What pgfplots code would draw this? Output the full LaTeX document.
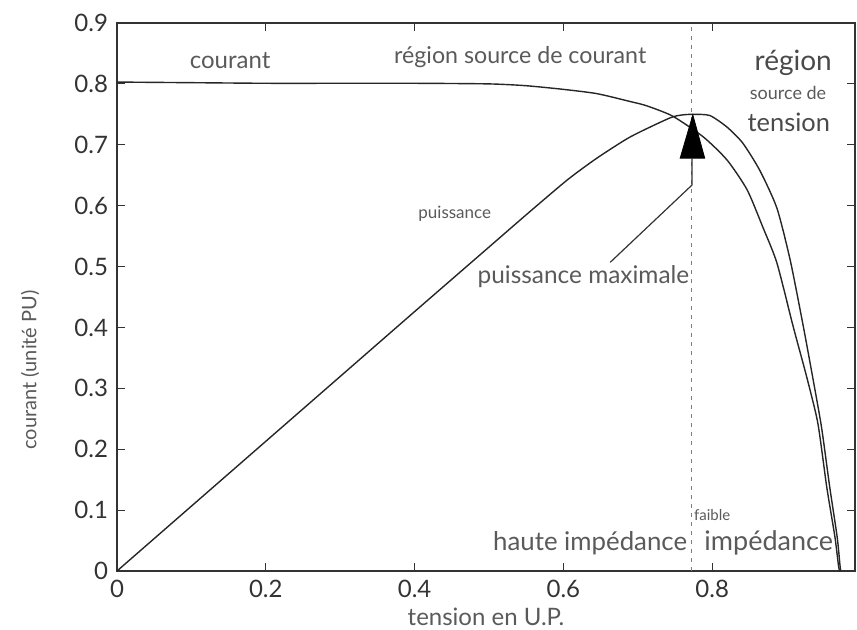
\documentclass[border=0pt]{standalone}
\usepackage{fontspec}
\setmainfont{Lato}
\usepackage{pgfplots}
\pgfplotsset{compat=1.18}
\definecolor{txt}{HTML}{5A5A5A}
\definecolor{txtd}{HTML}{4A4A4A}
\definecolor{tk}{HTML}{333333}
\begin{document}
\begin{tikzpicture}
\path[use as bounding box] (-58.5pt,-29pt) rectangle (370pt,285.5pt);
\begin{axis}[
  at={(0,0)}, anchor=south west,
  scale only axis, width=369pt, height=274pt,
  xmin=0, xmax=0.992, ymin=0, ymax=0.9,
  xtick={0,0.2,0.4,0.6,0.8},
  xticklabels={0,0.2,0.4,0.6,0.8},
  ytick={0,0.1,0.2,0.3,0.4,0.5,0.6,0.7,0.8,0.9},
  yticklabels={0,0.1,0.2,0.3,0.4,0.5,0.6,0.7,0.8,0.9},
  tick align=inside, major tick length=4pt,
  tick style={tk, line width=0.6pt},
  ticklabel style={font=\fontsize{12}{14}\selectfont, text=tk},
  xticklabel style={yshift=-1pt},
  yticklabel style={xshift=-1pt},
  /pgf/number format/assume math mode=true,
  axis line style={tk, line width=0.7pt},
  xlabel={tension en U.P.},
  xlabel style={font=\fontsize{12}{14}\selectfont, text=txt, at={(axis description cs:0.5,0)}, anchor=center, yshift=-23pt},
  ylabel={courant (unité PU)},
  ylabel style={font=\fontsize{10}{12}\selectfont, text=txt, at={(axis description cs:0,0.367)}, anchor=center, rotate=0, yshift=43.5pt},
  clip=false,
]
% current curve
\addplot[black!85, line width=0.7pt, smooth, tension=0.4] coordinates {
(0,0.803) (0.1,0.802) (0.2,0.801) (0.3,0.801) (0.4,0.801) (0.5,0.800)
(0.55,0.797) (0.6,0.791) (0.645,0.784) (0.69,0.771) (0.712,0.764)
(0.747,0.747) (0.788,0.713) (0.82,0.675) (0.847,0.626) (0.868,0.565)
(0.887,0.506) (0.909,0.401) (0.927,0.319) (0.942,0.243) (0.954,0.138)
(0.965,0.056) (0.970,0.007) (0.972,0)
};
% power curve
\addplot[black!85, line width=0.7pt, smooth, tension=0.4] coordinates {
(0,0) (0.1,0.1065) (0.2,0.213) (0.3,0.3195) (0.4,0.426) (0.5,0.532)
(0.55,0.585) (0.605,0.642) (0.645,0.678) (0.69,0.713) (0.743,0.744)
(0.76,0.749) (0.775,0.750) (0.797,0.748) (0.82,0.729) (0.841,0.703)
(0.864,0.658) (0.887,0.596) (0.905,0.510) (0.922,0.405) (0.935,0.319)
(0.947,0.236) (0.958,0.138) (0.968,0.056) (0.972,0.007) (0.973,0)
};
% dashed vertical line
\addplot[gray, line width=0.6pt, dash pattern=on 2pt off 2.5pt] coordinates {(0.772,0) (0.772,0.9)};
% maximum power triangle
\addplot[fill=black, draw=black] coordinates {(0.757,0.678) (0.790,0.678) (0.774,0.749)} -- cycle;
% annotation line
\addplot[black!80, line width=0.6pt] coordinates {(0.663,0.507) (0.773,0.634) (0.773,0.678)};
% labels
\node[text=txt, font=\fontsize{12}{14}\selectfont] at (axis cs:0.152,0.839) {courant};
\node[text=txt, font=\fontsize{11.6}{13}\selectfont] at (axis cs:0.542,0.844) {région source de courant};
\node[text=txtd, font=\fontsize{14}{16}\selectfont] at (axis cs:0.909,0.834) {région};
\node[text=txt, font=\fontsize{9}{11}\selectfont] at (axis cs:0.902,0.785) {source de};
\node[text=txtd, font=\fontsize{12.7}{15}\selectfont] at (axis cs:0.903,0.737) {tension};
\node[text=txt, font=\fontsize{8.5}{10}\selectfont] at (axis cs:0.454,0.586) {puissance};
\node[text=txt, font=\fontsize{12.2}{14}\selectfont] at (axis cs:0.627,0.483) {puissance maximale};
\node[text=txt, font=\fontsize{7.5}{9}\selectfont] at (axis cs:0.80,0.092) {faible};
\node[text=txt, font=\fontsize{12.9}{15}\selectfont] at (axis cs:0.636,0.046) {haute impédance};
\node[text=txt, font=\fontsize{13.5}{15}\selectfont] at (axis cs:0.876,0.046) {impédance};
\end{axis}
\end{tikzpicture}
\end{document}
